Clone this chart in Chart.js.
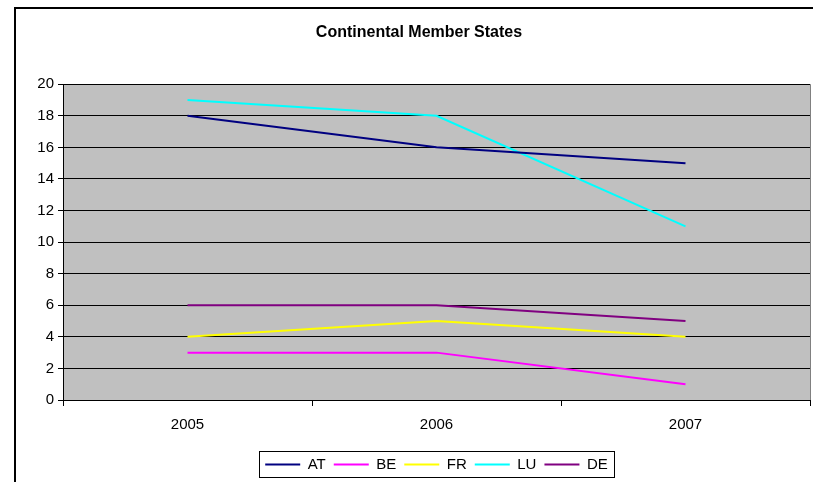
<!DOCTYPE html>
<html>
<head>
<meta charset="utf-8">
<script src="https://cdn.jsdelivr.net/npm/chart.js@4.4.1/dist/chart.umd.min.js"></script>
<style>
  html, body { margin: 0; padding: 0; background: #fff; }
  #wrap { width: 813px; height: 482px; position: relative; }
</style>
</head>
<body>
<div id="wrap"><canvas id="chart"></canvas></div>
<script>
// data
const years = ['2005', '2006', '2007'];
const at = [18, 16, 15];
const be = [3, 3, 1];
const fr = [4, 5, 4];
const lu = [19, 18, 11];
const de = [6, 6, 5];
const yTicks = [0, 2, 4, 6, 8, 10, 12, 14, 16, 18, 20];

const FONT = "'Liberation Sans', Arial, sans-serif";

function serie(label, data, color) {
    return {
        label: label,
        data: data,
        borderColor: color,
        backgroundColor: color,
        borderWidth: 2,
        pointRadius: 0,
        tension: 0
    };
}

// grey plot area + outer frame + box round the legend
const excelLook = {
    id: 'excelLook',
    afterLayout(chart) {
        // Excel centres the legend under the plot area, not the whole chart
        const lg = chart.legend;
        const shift = (chart.chartArea.left + chart.chartArea.right) / 2 - (lg.left + lg.right) / 2;
        lg.left += shift;
        lg.right += shift;
    },
    beforeDraw(chart) {
        const { ctx, chartArea: a } = chart;
        ctx.save();
        ctx.fillStyle = '#c0c0c0';
        ctx.fillRect(a.left, a.top, a.right - a.left, a.bottom - a.top);
        ctx.restore();
    },
    afterDraw(chart) {
        const { ctx, chartArea: a } = chart;
        ctx.save();
        // right edge of the plot area
        ctx.strokeStyle = '#808080';
        ctx.lineWidth = 1;
        ctx.beginPath();
        ctx.moveTo(a.right + 0.5, a.top);
        ctx.lineTo(a.right + 0.5, a.bottom);
        ctx.stroke();

        // outer chart frame (runs off the right and bottom of the picture)
        ctx.strokeStyle = '#000';
        ctx.lineWidth = 2;
        ctx.beginPath();
        ctx.moveTo(15, 490);
        ctx.lineTo(15, 8);
        ctx.lineTo(820, 8);
        ctx.stroke();

        // legend box
        const boxes = chart.legend.legendHitBoxes;
        if (boxes && boxes.length) {
            let l = Infinity, r = -Infinity, t = Infinity, b = -Infinity;
            boxes.forEach(h => {
                l = Math.min(l, h.left); r = Math.max(r, h.left + h.width);
                t = Math.min(t, h.top); b = Math.max(b, h.top + h.height);
            });
            ctx.strokeStyle = '#000';
            ctx.lineWidth = 1;
            ctx.strokeRect(Math.round(l - 6) + 0.5, Math.round(t - 6) + 0.5,
                           Math.round(r - l + 12), Math.round(b - t + 11));
        }
        ctx.restore();
    }
};

new Chart(document.getElementById('chart'), {
    type: 'line',
    data: {
        labels: years,
        datasets: [
            serie('AT', at, '#000080'),
            serie('BE', be, '#ff00ff'),
            serie('FR', fr, '#ffff00'),
            serie('LU', lu, '#00ffff'),
            serie('DE', de, '#800080')
        ]
    },
    options: {
        responsive: true,
        maintainAspectRatio: false,
        animation: false,
        layout: { padding: { left: 28, right: 3, top: 0, bottom: 0 } },
        plugins: {
            title: {
                display: true,
                text: 'Continental Member States',
                color: '#000',
                font: { family: FONT, size: 16, weight: 'bold' },
                padding: { top: 23, bottom: 42 }
            },
            legend: {
                position: 'bottom',
                labels: {
                    color: '#000',
                    font: { family: FONT, size: 15 },
                    usePointStyle: true,
                    pointStyle: 'line',
                    pointStyleWidth: 35,
                    boxHeight: 10,
                    padding: 8
                }
            },
            tooltip: { enabled: false }
        },
        scales: {
            x: {
                type: 'category',
                offset: true,
                grid: {
                    offset: true,
                    drawOnChartArea: false,
                    color: '#000',
                    tickLength: 6
                },
                border: { color: '#000', width: 1 },
                ticks: {
                    color: '#000',
                    font: { family: FONT, size: 15 },
                    padding: 10
                },
                afterFit(scale) { scale.height = 49; }
            },
            y: {
                min: 0,
                max: 20,
                afterBuildTicks(scale) {
                    scale.ticks = yTicks.map(v => ({ value: v }));
                },
                grid: {
                    color: '#000',
                    tickLength: 5
                },
                border: { color: '#000', width: 1 },
                ticks: {
                    color: '#000',
                    font: { family: FONT, size: 15 },
                    padding: 4
                },
                afterFit(scale) { scale.width = 35; }
            }
        }
    },
    plugins: [excelLook]
});
</script>
</body>
</html>
